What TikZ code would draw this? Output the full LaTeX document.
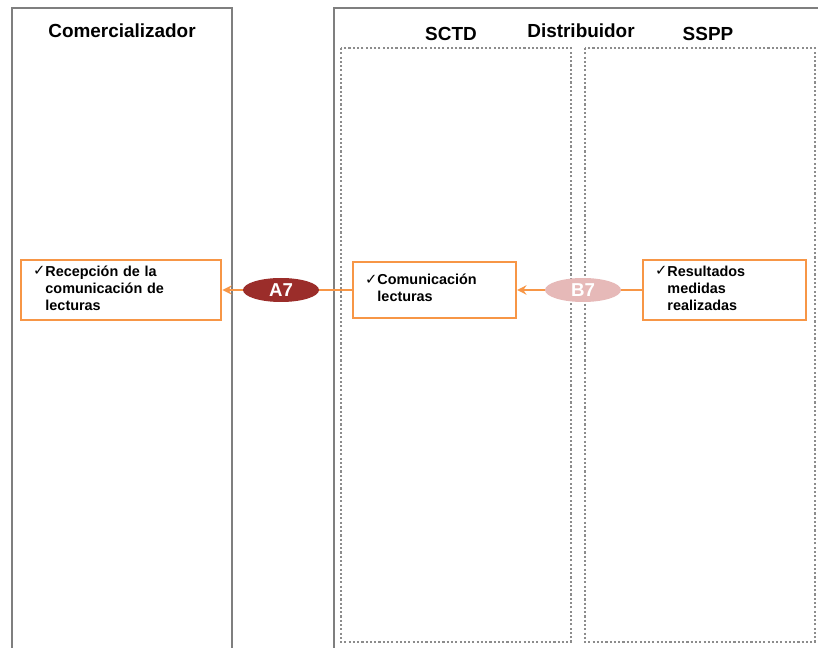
\documentclass[tikz,border=0pt]{standalone}
\usepackage{fontspec}
\setmainfont{Liberation Sans}
\newfontfamily\symfont{DejaVu Sans}
\usetikzlibrary{shapes.geometric, positioning, arrows.meta}
\definecolor{lane}{HTML}{7F7F7F}
\definecolor{accent}{HTML}{F79646}
\definecolor{darkred}{HTML}{9B2D2A}
\definecolor{pink}{HTML}{E6B9B8}
\newcommand{\tick}[1]{{\symfont\fontsize{11}{10}\selectfont\raisebox{0.3pt}{✓}}\begin{tabular}[t]{@{}l@{}}#1\end{tabular}}

\begin{document}
\begin{tikzpicture}[x=0.75pt, y=-0.75pt, >={Stealth[length=7pt,width=7pt]},
    lane/.style={draw=lane, line width=1.8pt},
    sublane/.style={draw=lane!90, line width=2pt, dash pattern=on 1.6pt off 1.6pt},
    title/.style={font=\bfseries\fontsize{14.2}{16}\selectfont, inner sep=0pt},
    task/.style={draw=accent, line width=1.8pt, fill=white, align=left, inner xsep=9pt, minimum height=42pt, font=\bfseries\fontsize{10.8}{12.75}\selectfont, anchor=west},
    flow/.style={ellipse, minimum width=57pt, minimum height=18pt, inner sep=0pt, text=white, font=\bfseries\fontsize{14}{16}\selectfont},
    link/.style={draw=accent, line width=1.8pt}]
    \useasboundingbox (0,0) rectangle (818,648);

    % swimlanes
    \draw[lane] (12,648) -- (12,8) -- (232,8) -- (232,648);
    \draw[lane] (334,648) -- (334,8) -- (818,8);
    \draw[sublane] (341,48) rectangle (571,642);
    \draw[sublane] (585,48) rectangle (815,642);

    \node[title] (com) at (122,31) {Comercializador};
    \node[title] (dis) at (581,31) {Distribuidor};
    \node[title] (sctd) at (451,34) {SCTD};
    \node[title] (sspp) at (708,34) {SSPP};

    % tasks
    \node[task, text width=132pt] (recep) at (20,290) {\tick{Recepci\'on de la\\comunicaci\'on de\\lecturas}};
    \node[task, text width=104pt] (comunic) at (352,290) {\tick{Comunicaci\'on\\lecturas}};
    \node[task, text width=104pt] (result) at (642,290) {\tick{Resultados\\medidas\\realizadas}};

    % flows
    \node[flow, fill=darkred] (a7) at (281,290) {A7};
    \node[flow, fill=pink] (b7) at (583,290) {B7};

    \draw[link] (comunic.west) -- (a7.east);
    \draw[link, ->, accent] (a7.west) -- (recep.east);
    \draw[link] (result.west) -- (b7.east);
    \draw[link, ->, accent] (b7.west) -- (comunic.east);
\end{tikzpicture}
\end{document}
